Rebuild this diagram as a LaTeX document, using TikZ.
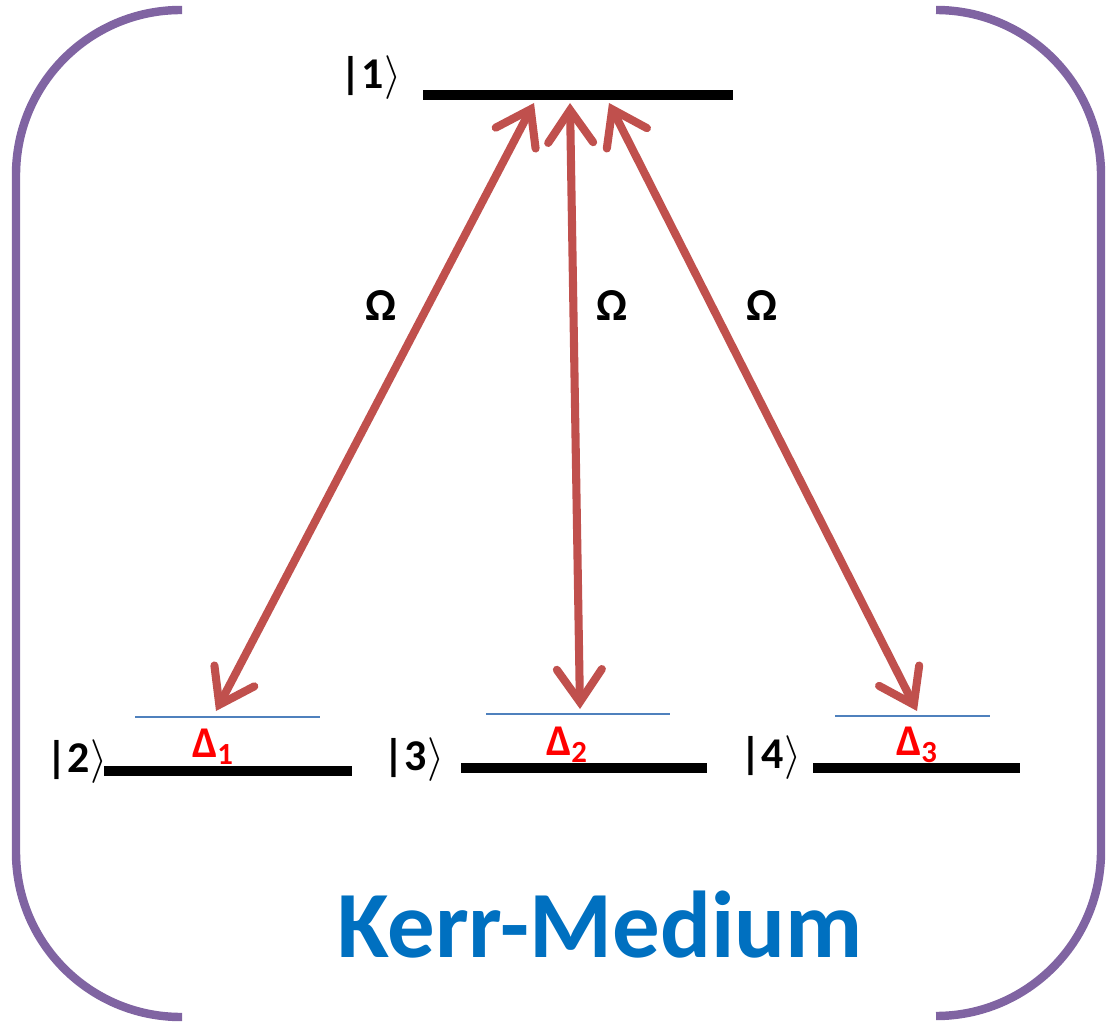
\documentclass[tikz,border=0pt]{standalone}
\usepackage{fontspec}
\setmainfont{Carlito}
\usetikzlibrary{arrows.meta}
\definecolor{brk}{HTML}{8064A2}
\definecolor{arr}{HTML}{C0504D}
\definecolor{blu}{HTML}{4F81BD}
\definecolor{kerr}{HTML}{0070C0}
\begin{document}
\begin{tikzpicture}[x=0.02cm,y=-0.02cm,
  bracket/.style={draw=brk,line width=4.8pt,rounded corners=3.3cm},
  level/.style={draw=black,line width=5.5pt},
  virt/.style={draw=blu,line width=1.1pt},
  trans/.style={draw=arr,line width=4.6pt,{Straight Barb[length=6.5mm,width=9mm,line cap=round]}-{Straight Barb[length=6.5mm,width=9mm,line cap=round]}},
  ket/.style={font=\fontsize{25}{28}\selectfont\bfseries,inner sep=0pt},
  omg/.style={font=\fontsize{26}{30}\selectfont\bfseries,inner sep=0pt},
  det/.style={font=\fontsize{25}{28}\selectfont\bfseries,text=red,inner sep=0pt}]
\useasboundingbox (0,0) rectangle (1108,1026);
% brackets
\draw[bracket] (182,10) -- (16,10) -- (16,1017) -- (182,1017);
\draw[bracket] (940,10) -- (1101,10) -- (1101,1016) -- (940,1016);
% levels
\coordinate (l1a) at (423,95); \coordinate (l1b) at (733,95);
\coordinate (l2a) at (104,771); \coordinate (l2b) at (352,771);
\coordinate (l3a) at (461,768); \coordinate (l3b) at (707,768);
\coordinate (l4a) at (813,768); \coordinate (l4b) at (1020,768);
\draw[level] (l1a) -- (l1b);
\draw[level] (l2a) -- (l2b);
\draw[level] (l3a) -- (l3b);
\draw[level] (l4a) -- (l4b);
% virtual levels
\coordinate (v1a) at (135,717); \coordinate (v1b) at (320,717);
\coordinate (v2a) at (486,714); \coordinate (v2b) at (670,714);
\coordinate (v3a) at (835,716); \coordinate (v3b) at (990,716);
\draw[virt] (v1a) -- (v1b);
\draw[virt] (v2a) -- (v2b);
\draw[virt] (v3a) -- (v3b);
% arrow ends
\coordinate (t1) at (534,103); \coordinate (b1) at (216,711);
\coordinate (t2) at (570,103); \coordinate (b2) at (580,709);
\coordinate (t3) at (609,103); \coordinate (b3) at (917,711);
\draw[trans] (t1) -- (b1);
\draw[trans] (t2) -- (b2);
\draw[trans] (t3) -- (b3);
% labels
\node[ket] (k1) at (371,78) {|1$\rangle$};
\node[ket] (k2) at (77,762) {|2$\rangle$};
\node[ket] (k3) at (414,760) {|3$\rangle$};
\node[ket] (k4) at (771,758) {|4$\rangle$};
\node[omg] (o1) at (381,306) {Ω};
\node[omg] (o2) at (612,306) {Ω};
\node[omg] (o3) at (762,306) {Ω};
\node[det] (d1) at (213,747) {Δ\textsubscript{1}};
\node[det] (d2) at (567,745) {Δ\textsubscript{2}};
\node[det] (d3) at (917,745) {Δ\textsubscript{3}};
\node[font=\fontsize{54}{60}\selectfont\bfseries,text=kerr,inner sep=0pt] (km) at (600,925) {Kerr-Medium};
\end{tikzpicture}
\end{document}
